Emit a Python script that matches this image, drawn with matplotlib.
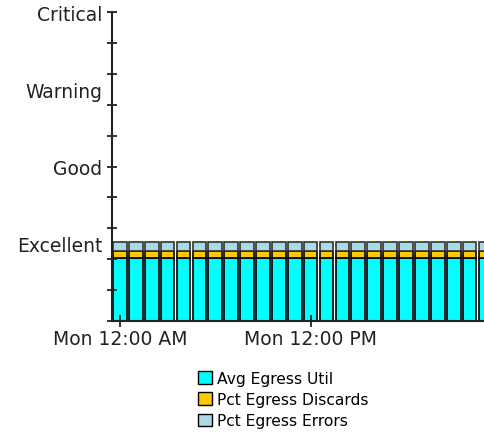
import matplotlib.pyplot as plt
import numpy as np
from matplotlib.patches import Patch

# hourly samples starting Mon 12:00 AM
hours = list(range(0, 25))
avg_egress_util = [20.3] * 25
pct_egress_discards = [2.2] * 25
pct_egress_errors = [3.0] * 25

level_pos = [25, 50, 75, 100]
level_labels = ['Excellent', 'Good', 'Warning', 'Critical']
xtick_pos = [0, 12]
xtick_labels = ['Mon 12:00 AM', 'Mon 12:00 PM']

fig = plt.figure(figsize=(4.84, 4.39), dpi=100)
ax = fig.add_axes([112 / 484, 1 - 322 / 439, 1 - 112 / 484, 309 / 439])

x = np.array(hours)
util = np.array(avg_egress_util)
disc = np.array(pct_egress_discards)
err = np.array(pct_egress_errors)

w = 0.86
ax.bar(x, util, width=w, color='#00FFFF', edgecolor='black', linewidth=1.2)
ax.bar(x, disc, bottom=util, width=w, color='#FFC800', edgecolor='black', linewidth=1.2)
ax.bar(x, err, bottom=util + disc, width=w, color='#ADD8E6', edgecolor='#333333', linewidth=1.2)

ax.set_xlim(-0.5, (484 - 120) / 15.89)
ax.set_ylim(0, 100)

ax.spines['top'].set_visible(False)
ax.spines['right'].set_visible(False)
for s in ('left', 'bottom'):
    ax.spines[s].set_linewidth(1.5)
    ax.spines[s].set_color('#222222')

ax.yaxis.remove_overlapping_locs = False
ax.set_yticks(level_pos)
ax.set_yticklabels(level_labels, fontsize=13.5, color='#222222')
ax.set_yticks(np.arange(0, 101, 10), minor=True)
ax.tick_params(axis='y', which='major', length=0, pad=7)
ax.tick_params(axis='y', which='minor', direction='inout', length=7, width=1.3, color='#222222')
for t in ax.yaxis.get_minor_ticks():
    t.tick1line.set_clip_on(False)

ax.set_xticks(xtick_pos)
ax.set_xticklabels(xtick_labels, fontsize=13.5, color='#222222')
ax.tick_params(axis='x', which='major', direction='inout', length=8, width=1.3, color='#222222', pad=2)

handles = [
    Patch(facecolor='#00FFFF', edgecolor='black', label='Avg Egress Util'),
    Patch(facecolor='#FFC800', edgecolor='black', label='Pct Egress Discards'),
    Patch(facecolor='#ADD8E6', edgecolor='black', label='Pct Egress Errors'),
]
fig.legend(handles=handles, loc='upper left', bbox_to_anchor=(187 / 484, 1 - 361 / 439),
           frameon=False, fontsize=11.2, handlelength=0.9, handleheight=0.9,
           handletextpad=0.35, labelspacing=0.4, borderpad=0.2)

fig.savefig('out.png', dpi=100)
